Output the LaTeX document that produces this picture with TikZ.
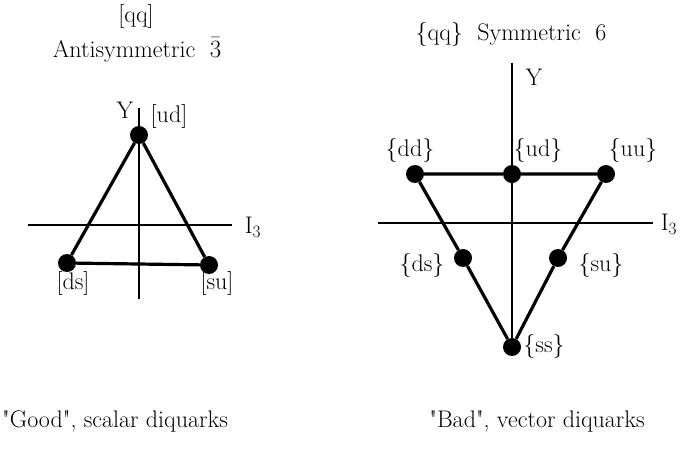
\documentclass[tikz,border=0pt]{standalone}
\begin{document}
\begin{tikzpicture}[x=1pt,y=-1pt,
  txt/.style={inner sep=0pt,font=\fontsize{24}{28}\selectfont},
  dot/.style={circle,fill=black,inner sep=0pt,minimum size=18pt},
  axis/.style={line width=1.6pt},
  edge/.style={line width=3.2pt}]
\useasboundingbox (0,0) rectangle (683,454);
% ---------- left: antisymmetric 3bar ----------
\node[txt] (tqq) at (136,17) {[qq]};
\node[txt] (tanti) at (137,50) {Antisymmetric\ \ $\bar{3}$};
\coordinate (ly1) at (139,108);
\coordinate (ly2) at (139,299);
\coordinate (lx1) at (28,225);
\coordinate (lx2) at (232,225);
\draw[axis] (ly1) -- (ly2);
\draw[axis] (lx1) -- (lx2);
\node[txt] (lY) at (125,110) {Y};
\node[txt] (lI) at (253,227) {I$_3$};
\node[dot] (lud) at (139,135) {};
\node[dot] (lds) at (67,263) {};
\node[dot] (lsu) at (209,265) {};
\draw[edge] (lud) -- (lds) -- (lsu) -- (lud);
\node[txt] (tlud) at (169,117) {[ud]};
\node[txt] (tlds) at (73,284) {[ds]};
\node[txt] (tlsu) at (217,284) {[su]};
% ---------- right: symmetric 6 ----------
\node[txt] (tsym) at (511,35) {\{qq\}\ \ Symmetric\ \ 6};
\coordinate (ry1) at (512,63);
\coordinate (ry2) at (512,347);
\coordinate (rx1) at (378,223);
\coordinate (rx2) at (653,223);
\draw[axis] (ry1) -- (ry2);
\draw[axis] (rx1) -- (rx2);
\node[txt] (rY) at (534,77) {Y};
\node[txt] (rI) at (669,224) {I$_3$};
\node[dot] (rdd) at (415,174) {};
\node[dot] (rud) at (512,174) {};
\node[dot] (ruu) at (606,174) {};
\node[dot] (rds) at (463,258) {};
\node[dot] (rsu) at (558,258) {};
\node[dot] (rss) at (512,347) {};
\draw[edge] (rdd) -- (rud) -- (ruu) -- (rsu) -- (rss) -- (rds) -- (rdd);
\node[txt] (trdd) at (410,151) {\{dd\}};
\node[txt] (trud) at (538,151) {\{ud\}};
\node[txt] (truu) at (633,151) {\{uu\}};
\node[txt] (trds) at (422,266) {\{ds\}};
\node[txt] (trsu) at (601,266) {\{su\}};
\node[txt] (trss) at (544,347) {\{ss\}};
% ---------- captions ----------
\node[txt] (cgood) at (115,421) {\textquotedbl Good\textquotedbl, scalar diquarks};
\node[txt] (cbad) at (537,421) {\textquotedbl Bad\textquotedbl, vector diquarks};
\end{tikzpicture}
\end{document}
